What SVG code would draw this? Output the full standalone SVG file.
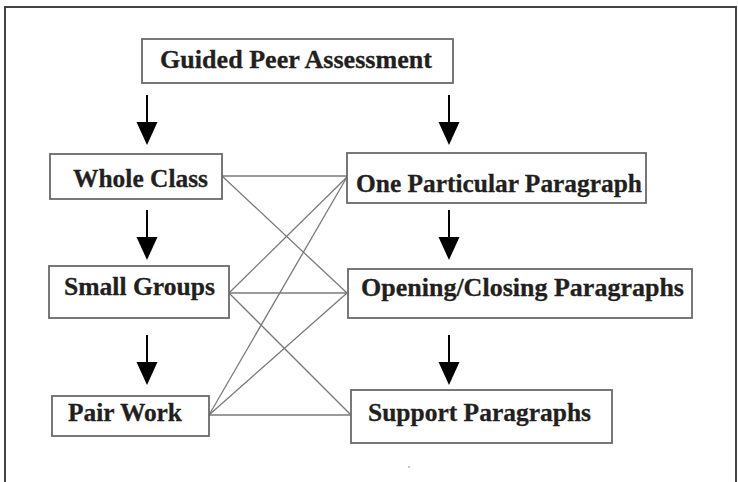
<svg xmlns="http://www.w3.org/2000/svg" width="738" height="482" viewBox="0 0 738 482">
<style>
.box{fill:#fff;stroke:#6a6a6a;stroke-width:1.8}
.lbl{font-family:"Liberation Serif","Times New Roman",serif;font-weight:bold;font-size:26px;fill:#231f20;stroke:#231f20;stroke-width:0.3}
.con{stroke:#7a7a7a;stroke-width:1.3;fill:none}
.arr{stroke:#000;stroke-width:2;fill:none}
.head{fill:#000}
</style>
<defs>
<g id="arrow">
<line class="arr" x1="0" y1="0" x2="0" y2="30"/>
<polygon class="head" points="-10.5,27 10.5,27 0,50"/>
</g>
</defs>
<rect width="738" height="482" fill="#fff"/>
<path d="M5,490 V7 H736 V490" fill="none" stroke="#444" stroke-width="2"/>
<g id="connectors">
<line class="con" x1="222" y1="176" x2="347" y2="176"/>
<line class="con" x1="222" y1="176" x2="347" y2="293"/>
<line class="con" x1="229" y1="293" x2="347" y2="177"/>
<line class="con" x1="229" y1="293" x2="347" y2="293"/>
<line class="con" x1="229" y1="293" x2="351" y2="415"/>
<line class="con" x1="209" y1="415" x2="347" y2="177"/>
<line class="con" x1="209" y1="415" x2="347" y2="293"/>
<line class="con" x1="209" y1="415" x2="351" y2="415"/>
</g>
<g id="arrows">
<use href="#arrow" x="147" y="95"/>
<use href="#arrow" x="147" y="210"/>
<use href="#arrow" x="147" y="335"/>
<use href="#arrow" x="449" y="95"/>
<use href="#arrow" x="449" y="210"/>
<use href="#arrow" x="449" y="335"/>
</g>
<g id="guided">
<rect class="box" x="142" y="39" width="311" height="44"/>
<text class="lbl" x="160" y="68" textLength="272" lengthAdjust="spacingAndGlyphs">Guided Peer Assessment</text>
</g>
<g id="whole">
<rect class="box" x="50" y="154" width="172" height="45"/>
<text class="lbl" x="73" y="187" textLength="135" lengthAdjust="spacingAndGlyphs">Whole Class</text>
</g>
<g id="small">
<rect class="box" x="49" y="266" width="180" height="52"/>
<text class="lbl" x="64" y="295" textLength="151" lengthAdjust="spacingAndGlyphs">Small Groups</text>
</g>
<g id="pair">
<rect class="box" x="52" y="396" width="157" height="40"/>
<text class="lbl" x="68" y="421" textLength="114" lengthAdjust="spacingAndGlyphs">Pair Work</text>
</g>
<g id="one">
<rect class="box" x="347" y="153" width="299" height="50"/>
<text class="lbl" x="356" y="192" textLength="286" lengthAdjust="spacingAndGlyphs">One Particular Paragraph</text>
</g>
<g id="opening">
<rect class="box" x="348" y="269" width="344" height="49"/>
<text class="lbl" x="361" y="296" textLength="323" lengthAdjust="spacingAndGlyphs">Opening/Closing Paragraphs</text>
</g>
<g id="support">
<rect class="box" x="351" y="390" width="261" height="53"/>
<text class="lbl" x="368" y="421" textLength="223" lengthAdjust="spacingAndGlyphs">Support Paragraphs</text>
</g>
<circle cx="409" cy="467" r="0.9" fill="#aaa"/>
</svg>
